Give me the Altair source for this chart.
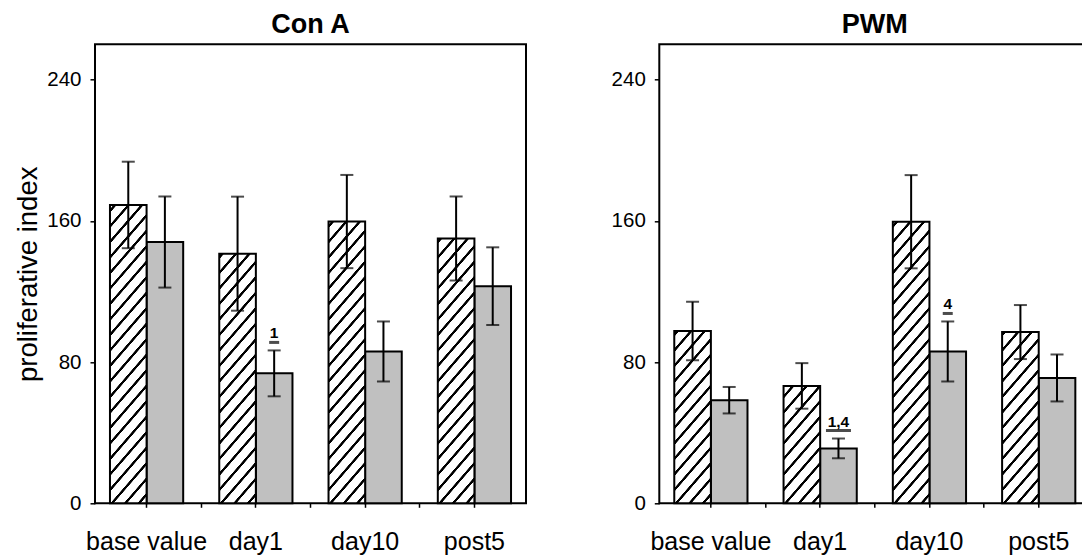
import altair as alt
import pandas as pd

# ---- data -------------------------------------------------------------
categories = ["base value", "day1", "day10", "post5"]
series = ["striped", "solid"]

con_a_striped = [169.0, 141.4, 159.6, 150.0]
con_a_striped_err = [24.5, 32.3, 26.4, 23.8]
con_a_solid = [148.0, 73.6, 86.0, 123.0]
con_a_solid_err = [25.8, 13.0, 17.0, 22.0]

pwm_striped = [97.6, 66.5, 159.5, 97.0]
pwm_striped_err = [16.5, 12.9, 26.4, 15.3]
pwm_solid = [58.4, 31.1, 86.0, 71.0]
pwm_solid_err = [7.5, 5.6, 17.0, 13.3]

# significance marks drawn over the solid bars
con_a_marks = {"day1": "1"}
pwm_marks = {"day1": "1,4", "day10": "4"}

y_ticks = [0, 80, 160, 240]
y_max = 260

# ---- layout / style ---------------------------------------------------
PAGE_W, PAGE_H = 1082, 556
PLOT_LEFT, PLOT_TOP = 95, 44.3
PANEL_W = 431
PANEL_H = 459
GAP = 133.3            # distance between the two plot frames
PAD_INNER = 0.33
PAD_OUTER = 0.137
SANS = "'Liberation Sans', Arial, sans-serif"
GREY = "#c0c0c0"

# diagonal hatch geometry (pixels)
SLOPE = 1.15
PERIOD = 15.5
LINE = 3.6
RAMP = 0.7

step = PANEL_W / (len(categories) - PAD_INNER + 2 * PAD_OUTER)
bar_w = step * (1 - PAD_INNER) / len(series)


def hatch_fill(value):
    """Linear gradient with hard stops that paints '/' stripes inside a bar."""
    h = value / y_max * PANEL_H
    w = bar_w
    m = SLOPE
    K = m * w + h
    c = K / ((m * w) ** 2 + h ** 2)
    stops = []

    def add(k, color):
        stops.append({"offset": round(min(max(k / K, 0.0), 1.0), 5), "color": color})

    add(0, "white")
    k = (h % PERIOD) - PERIOD
    while k < K:
        add(k, "white")
        add(k + RAMP, "black")
        add(k + LINE, "black")
        add(k + LINE + RAMP, "white")
        k += PERIOD
    add(K, "white")
    return {"gradient": "linear", "x1": 0, "y1": 0,
            "x2": round(c * m * w, 5), "y2": round(c * h, 5), "stops": stops}


def panel(title, striped, striped_err, solid, solid_err, marks, y_title):
    rows = []
    for cat, v, e in zip(categories, striped, striped_err):
        rows.append({"cat": cat, "series": "striped", "mean": v, "err": e, "mark": ""})
    for cat, v, e in zip(categories, solid, solid_err):
        rows.append({"cat": cat, "series": "solid", "mean": v, "err": e,
                     "mark": marks.get(cat, "")})
    df = pd.DataFrame(rows)

    xs = alt.Scale(domain=categories, paddingInner=PAD_INNER, paddingOuter=PAD_OUTER)
    ys = alt.Scale(domain=[0, y_max], nice=False, zero=True)
    xo = alt.XOffset("series:N", scale=alt.Scale(domain=series))
    y_axis = alt.Axis(values=y_ticks, grid=False, domain=False)

    def x_enc(axis=None):
        return alt.X("cat:N", scale=xs, sort=categories, axis=axis)

    def y_enc(field):
        return alt.Y(f"{field}:Q", scale=ys, title=y_title, axis=y_axis)

    main_axis = alt.Axis(orient="bottom", labelAngle=0, title=None, domain=False,
                         labelFont=SANS, labelFontSize=25, labelPadding=22,
                         tickSize=4, labelColor="black")
    between_axis = alt.Axis(orient="bottom", values=categories[1:], bandPosition=-0.246,
                            labels=False, domain=False, title=None, tickSize=4, grid=False)

    base = alt.Chart(df)
    calc = base.transform_calculate(lo="datum.mean - datum.err",
                                    hi="datum.mean + datum.err")

    solid_bars = base.transform_filter(alt.datum.series == "solid").mark_bar(
        fill=GREY, stroke="black", strokeWidth=2
    ).encode(x=x_enc(main_axis), xOffset=xo, y=y_enc("mean"))

    striped_bars = [
        base.transform_filter((alt.datum.series == "striped") & (alt.datum.cat == cat))
        .mark_bar(fill=hatch_fill(v), stroke="black", strokeWidth=2)
        .encode(x=x_enc(), xOffset=xo, y=y_enc("mean"))
        for cat, v in zip(categories, striped)
    ]

    whiskers = calc.mark_rule(color="black", strokeWidth=2).encode(
        x=x_enc(between_axis), xOffset=xo, y=y_enc("lo"), y2="hi:Q")
    cap_lo = calc.mark_tick(color="black", thickness=2, size=13).encode(
        x=x_enc(), xOffset=xo, y=y_enc("lo"))
    cap_hi = calc.mark_tick(color="black", thickness=2, size=13).encode(
        x=x_enc(), xOffset=xo, y=y_enc("hi"))

    flagged = calc.transform_filter(alt.datum.mark != "")
    labels = flagged.mark_text(dy=-12, baseline="alphabetic", font=SANS,
                               fontWeight="bold", fontSize=15.5, color="black").encode(
        x=x_enc(), xOffset=xo, y=y_enc("hi"), text="mark:N")
    underline = flagged.transform_calculate(ul="length(datum.mark) * 7.5 + 2.5").mark_tick(
        color="black", thickness=3, yOffset=-8).encode(
        x=x_enc(), xOffset=xo, y=y_enc("hi"), size=alt.Size("ul:Q", scale=None, legend=None))

    return alt.layer(solid_bars, *striped_bars, whiskers, cap_lo, cap_hi, labels, underline
                     ).resolve_axis(x="independent"
                     ).properties(width=PANEL_W, height=PANEL_H, title=title)


left = panel("Con A", con_a_striped, con_a_striped_err, con_a_solid, con_a_solid_err,
             con_a_marks, "proliferative index")
right = panel("PWM", pwm_striped, pwm_striped_err, pwm_solid, pwm_solid_err,
              pwm_marks, None)

# panels are placed by their plot frames; the page clips the second frame on the right
chart = alt.hconcat(left, right, spacing=GAP, bounds="flush").properties(
    autosize=alt.AutoSizeParams(type="none"),
    padding={"left": PLOT_LEFT, "top": PLOT_TOP,
             "right": PAGE_W - PLOT_LEFT, "bottom": PAGE_H - PLOT_TOP},
).configure_view(
    stroke="black", strokeWidth=2
).configure_axis(
    grid=False, tickColor="black", tickWidth=1.5, labelColor="black", titleColor="black"
).configure_axisY(
    labelFont=SANS, labelFontSize=20.5, labelPadding=9, tickSize=5,
    titleFont=SANS, titleFontSize=27.5, titleFontWeight="normal", titlePadding=4.1
).configure_title(
    font=SANS, fontSize=27, fontWeight="bold", offset=5, baseline="alphabetic",
    anchor="middle", color="black"
)

chart.save("out.html", embed_options={"renderer": "svg", "actions": False})
